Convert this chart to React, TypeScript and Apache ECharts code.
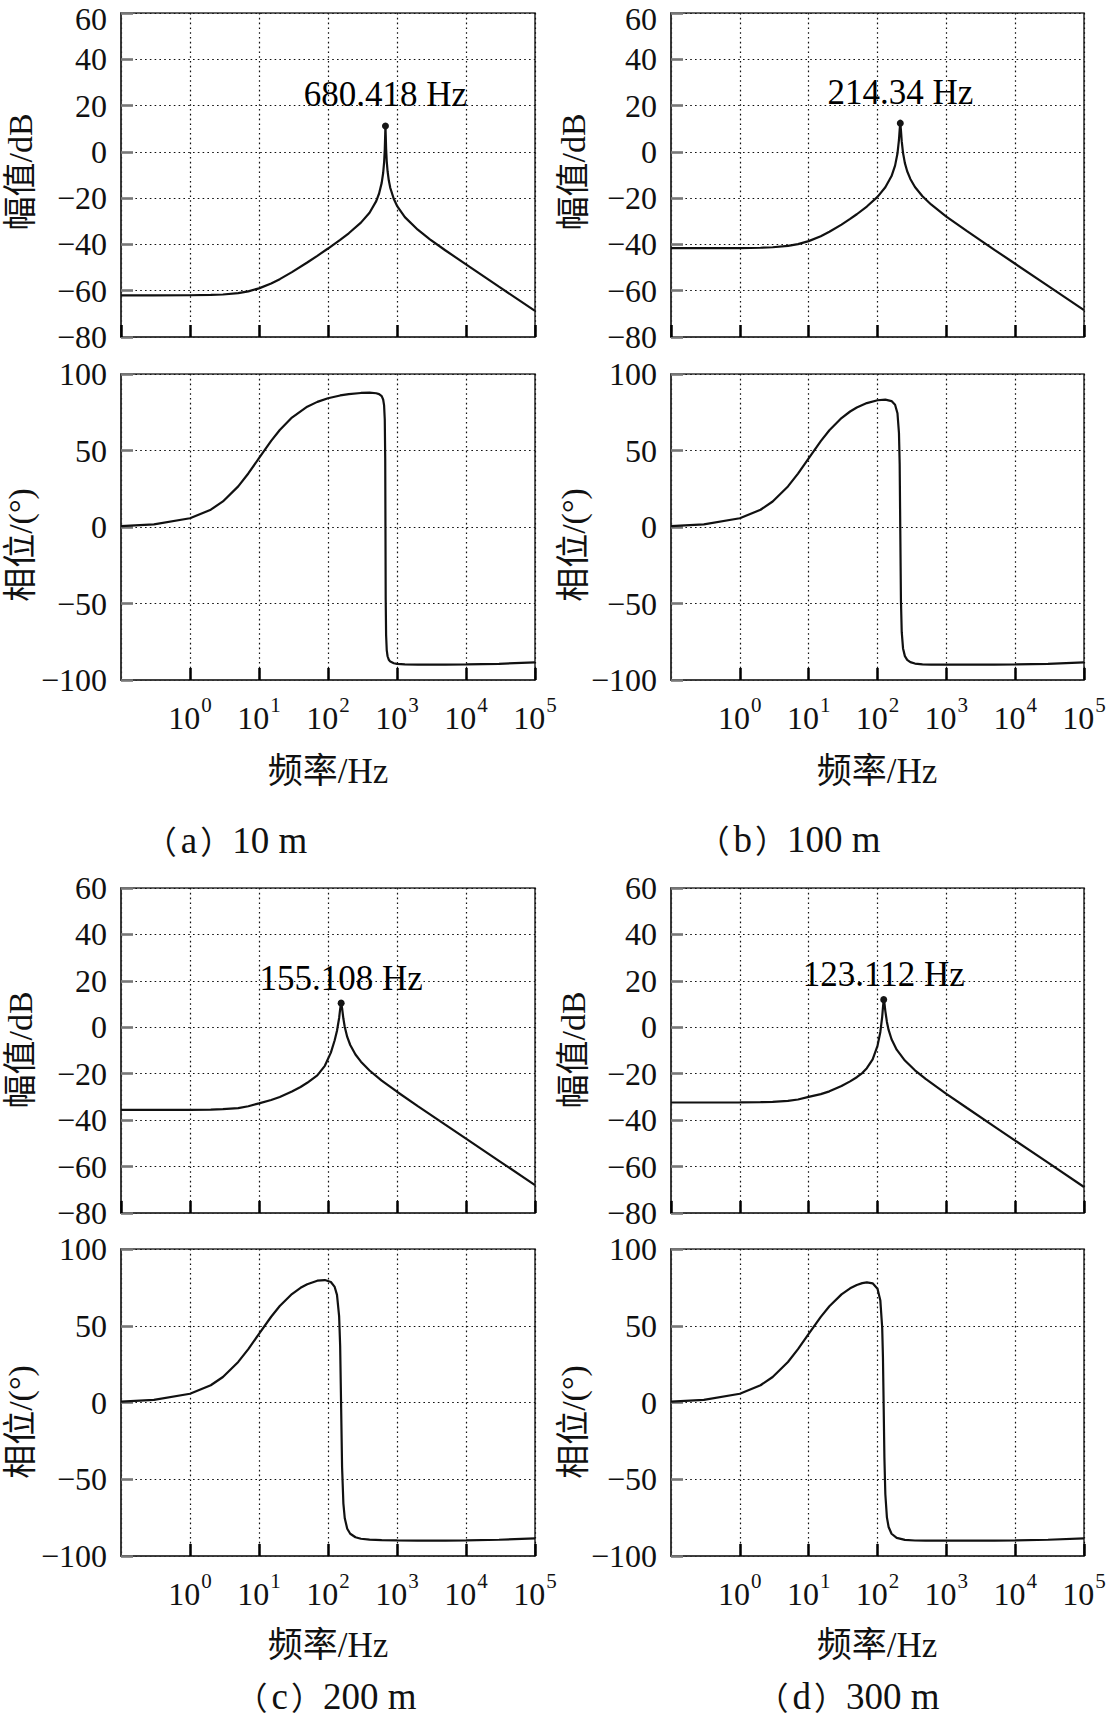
import React, { useEffect, useRef } from "react";
import * as echarts from "echarts";

const PAGE_W = 1106;
const PAGE_H = 1722;
const SERIF = '"Liberation Serif", "Times New Roman", "Noto Sans CJK SC", serif';
const CJK = '"Noto Sans CJK SC", sans-serif';
const INK = "#111111";

// (a) 10 m
const freqA = [0.1, 0.3, 1, 2, 3, 5, 7, 10, 15, 20, 30, 50, 70, 100, 150, 200, 300, 400, 500, 550, 600, 630, 650, 665, 675, 680.418, 686, 695, 710, 730, 760, 800, 900, 1000, 1300, 2000, 3000, 5000, 10000, 30000, 100000];
const magA = [-62.0, -62.0, -61.96, -61.83, -61.63, -61.03, -60.27, -58.99, -56.88, -55.01, -51.98, -47.8, -44.91, -41.77, -38.03, -35.19, -30.57, -26.28, -21.28, -17.99, -13.4, -9.14, -4.69, 0.98, 7.69, 11.2, 7.56, 1.54, -4.09, -8.37, -12.28, -15.6, -20.41, -23.29, -28.19, -33.64, -37.78, -42.51, -48.65, -58.23, -68.69];
const phaseA = [0.57, 1.72, 5.71, 11.31, 16.7, 26.56, 34.98, 44.99, 56.29, 63.4, 71.53, 78.62, 81.78, 84.16, 85.98, 86.85, 87.6, 87.77, 87.42, 86.88, 85.51, 83.31, 79.45, 70.3, 44.75, -0.84, -47.24, -70.62, -80.41, -84.48, -86.75, -87.97, -89.04, -89.47, -89.79, -89.95, -89.98, -89.99, -89.8, -89.4, -88.5];

// (b) 100 m
const freqB = [0.1, 0.3, 1, 2, 3, 5, 7, 10, 15, 20, 30, 40, 50, 70, 100, 130, 160, 180, 195, 205, 210, 214.34, 219, 225, 235, 250, 270, 300, 350, 450, 600, 1000, 2000, 5000, 10000, 30000, 100000];
const magB = [-41.6, -41.6, -41.56, -41.43, -41.22, -40.63, -39.86, -38.57, -36.44, -34.53, -31.43, -28.99, -26.96, -23.62, -19.44, -15.32, -10.45, -5.94, -0.73, 5.14, 9.58, 12.4, 9.37, 4.51, -0.51, -4.85, -8.38, -11.7, -15.16, -19.18, -22.74, -27.95, -34.28, -42.32, -48.35, -57.9, -68.36];
const phaseB = [0.57, 1.71, 5.7, 11.29, 16.67, 26.51, 34.91, 44.89, 56.14, 63.2, 71.22, 75.49, 78.09, 80.97, 82.83, 83.25, 82.29, 79.87, 74.32, 61.56, 40.99, -2.67, -47.75, -68.75, -79.37, -84.4, -86.87, -88.34, -89.24, -89.76, -89.95, -90.0, -90.0, -90.0, -89.8, -89.4, -88.5];

// (c) 200 m
const freqC = [0.1, 0.3, 1, 2, 3, 5, 7, 10, 15, 20, 30, 40, 50, 70, 90, 110, 125, 135, 145, 150, 155.108, 160, 167, 175, 190, 210, 250, 300, 400, 600, 1000, 2000, 5000, 10000, 30000, 100000];
const magC = [-35.6, -35.6, -35.56, -35.45, -35.28, -34.8, -34.0, -32.8, -31.3, -30.0, -27.7, -25.7, -23.9, -20.7, -16.6, -10.9, -5.6, -1.5, 4.0, 7.8, 10.4, 8.26, 3.77, 0.12, -4.15, -7.63, -11.73, -14.82, -18.61, -22.94, -27.76, -33.94, -41.95, -47.97, -57.52, -67.97];
const phaseC = [0.57, 1.71, 5.68, 11.25, 16.61, 26.42, 34.79, 44.71, 55.87, 62.85, 70.67, 74.73, 77.08, 79.34, 79.76, 78.47, 75.28, 70.14, 56.04, 36.88, -3.69, -42.15, -65.65, -75.42, -82.22, -85.51, -87.8, -88.76, -89.39, -89.71, -89.86, -89.94, -89.97, -89.8, -89.4, -88.5];

// (d) 300 m
const freqD = [0.1, 0.3, 1, 2, 3, 5, 7, 10, 15, 20, 30, 40, 50, 60, 70, 85, 100, 110, 117, 120, 123.112, 126, 130, 137, 145, 160, 190, 250, 350, 500, 1000, 2000, 5000, 10000, 30000, 100000];
const magD = [-32.4, -32.4, -32.37, -32.28, -32.12, -31.7, -31.1, -30.0, -28.8, -27.6, -25.3, -23.3, -21.5, -19.7, -17.6, -13.8, -8.0, -2.0, 4.5, 8.5, 11.91, 10.5, 6.99, 2.31, -1.13, -5.15, -9.65, -14.33, -18.53, -22.23, -28.66, -34.78, -42.76, -48.79, -58.33, -68.79];
const phaseD = [0.57, 1.71, 5.68, 11.24, 16.59, 26.39, 34.74, 44.64, 55.78, 62.71, 70.45, 74.4, 76.6, 77.79, 78.25, 77.62, 74.11, 66.38, 48.68, 29.5, -4.64, -36.21, -59.78, -74.82, -81.07, -85.51, -88.21, -89.49, -89.91, -90.0, -90.0, -90.0, -90.0, -89.8, -89.4, -88.5];

// resonance peaks marked on the magnitude plots
const peakFreq = [680.418, 214.34, 155.108, 123.112];
const peakMag = [11.2, 12.4, 10.4, 11.91];

const captions = ["（a）10 m", "（b）100 m", "（c）200 m", "（d）300 m"];
const magName = "幅值/dB";
const phaseName = "相位/(°)";
const freqName = "频率/Hz";

const freqMin = 0.1;
const freqMax = 100000;
const magMin = -80;
const magMax = 60;
const magStep = 20;
const phaseMin = -100;
const phaseMax = 100;
const phaseStep = 50;

const curves = [
  { freq: freqA, mag: magA, phase: phaseA },
  { freq: freqB, mag: magB, phase: phaseB },
  { freq: freqC, mag: magC, phase: phaseC },
  { freq: freqD, mag: magD, phase: phaseD },
];

// page layout of the four panels (pixels)
const frames = [
  { left: 121, width: 414, magTop: 13, magH: 324, phTop: 374, phH: 306, nameX: 20, magNameY: 172, phNameY: 545, xNameX: 328, xNameY: 771, capX: 226, capY: 840, peakGap: 10 },
  { left: 671, width: 413, magTop: 13, magH: 324, phTop: 374, phH: 306, nameX: 573, magNameY: 172, phNameY: 545, xNameX: 877, xNameY: 771, capX: 789, capY: 839, peakGap: 10 },
  { left: 121, width: 414, magTop: 888, magH: 325, phTop: 1249, phH: 307, nameX: 20, magNameY: 1050, phNameY: 1422, xNameX: 328, xNameY: 1645, capX: 326, capY: 1696, peakGap: 4 },
  { left: 671, width: 413, magTop: 888, magH: 325, phTop: 1249, phH: 307, nameX: 573, magNameY: 1050, phNameY: 1422, xNameX: 877, xNameY: 1645, capX: 848, capY: 1696, peakGap: 4 },
];

const dotted = { type: [1.6, 3.2] as number[], color: "#111", width: 1.2 };

function signed(v: number): string {
  return v < 0 ? "\u2212" + Math.abs(v) : String(v);
}

function makeXAxis(gridIndex: number, labelled: boolean) {
  return {
    type: "log",
    logBase: 10,
    min: freqMin,
    max: freqMax,
    gridIndex,
    position: "bottom",
    axisLine: { show: true, onZero: false, lineStyle: { color: "#333", width: 1.6 } },
    axisTick: { show: true, inside: true, length: 12, lineStyle: { color: "#000", width: 2.5 } },
    splitLine: { show: true, lineStyle: dotted },
    axisLabel: labelled
      ? {
          show: true,
          margin: 14,
          showMinLabel: false,
          formatter: (v: number) => {
            const e = Math.round(Math.log10(v));
            return e < 0 ? "" : `{b|10}{s|${e}}`;
          },
          rich: {
            b: { fontSize: 32, fontFamily: SERIF, color: INK, lineHeight: 40, verticalAlign: "bottom" },
            s: { fontSize: 21, fontFamily: SERIF, color: INK, lineHeight: 40, verticalAlign: "top", padding: [0, 0, 0, 1] },
          },
        }
      : { show: false },
  };
}

function makeYAxis(gridIndex: number, min: number, max: number, step: number, roomAbove: boolean) {
  return {
    type: "value",
    gridIndex,
    min,
    max,
    interval: step,
    position: "left",
    axisLine: { show: true, onZero: false, lineStyle: { color: "#333", width: 1.6 } },
    axisTick: { show: true, inside: true, length: 12, lineStyle: { color: "#777", width: 2.6 } },
    splitLine: { show: true, lineStyle: dotted },
    axisLabel: {
      margin: 14,
      fontSize: 32,
      lineHeight: 26,
      fontFamily: SERIF,
      color: INK,
      // the top label sits at the page edge, so it gets a little headroom
      formatter: (v: number) => (roomAbove && v === max ? `{hi|${signed(v)}}` : signed(v)),
      rich: {
        hi: { fontSize: 32, fontFamily: SERIF, color: INK, lineHeight: 26, padding: [11, 0, 0, 0] },
      },
    },
  };
}

function vText(text: string, x: number, y: number) {
  return {
    type: "text",
    x,
    y,
    rotation: Math.PI / 2,
    style: {
      text,
      fontSize: 34,
      fontFamily: SERIF,
      fill: INK,
      align: "center",
      verticalAlign: "middle",
      textAlign: "center",
      textVerticalAlign: "middle",
    },
  };
}

function hText(text: string, x: number, y: number, size: number) {
  return {
    type: "text",
    x,
    y,
    style: {
      text,
      fontSize: size,
      fontFamily: SERIF,
      fill: INK,
      align: "center",
      verticalAlign: "middle",
      textAlign: "center",
      textVerticalAlign: "middle",
    },
  };
}

// full-width brackets come from the CJK face, the rest from the serif face
function captionText(s: string, x: number, y: number) {
  const rich = s
    .split(/([（）])/)
    .filter((part) => part.length > 0)
    .map((part) => (part === "（" ? `{lp|${part}}` : part === "）" ? `{rp|${part}}` : `{t|${part}}`))
    .join("");
  return {
    type: "text",
    x,
    y,
    style: {
      text: rich,
      fill: INK,
      align: "center",
      verticalAlign: "middle",
      textAlign: "center",
      textVerticalAlign: "middle",
      rich: {
        lp: { fontFamily: CJK, fontSize: 32, fill: INK, lineHeight: 34, padding: [0, 4, 0, 0] },
        rp: { fontFamily: CJK, fontSize: 32, fill: INK, lineHeight: 34, padding: [0, 0, 0, 3] },
        t: { fontFamily: SERIF, fontSize: 37, fill: INK, lineHeight: 34 },
      },
    },
  };
}

function buildOption() {
  const grid: any[] = [];
  const xAxis: any[] = [];
  const yAxis: any[] = [];
  const series: any[] = [];
  const graphic: any[] = [];

  frames.forEach((fr, k) => {
    const gm = 2 * k;
    const gp = 2 * k + 1;
    const frameStyle = {
      show: true,
      borderColor: "#333",
      borderWidth: 1.6,
      backgroundColor: "transparent",
      containLabel: false,
      outerBoundsMode: "none",
    };
    grid.push({ left: fr.left, top: fr.magTop, width: fr.width, height: fr.magH, ...frameStyle });
    grid.push({ left: fr.left, top: fr.phTop, width: fr.width, height: fr.phH, ...frameStyle });

    xAxis.push(makeXAxis(gm, false));
    xAxis.push(makeXAxis(gp, true));
    yAxis.push(makeYAxis(gm, magMin, magMax, magStep, fr.magTop < 20));
    yAxis.push(makeYAxis(gp, phaseMin, phaseMax, phaseStep, false));

    const c = curves[k];
    series.push({
      type: "line",
      xAxisIndex: gm,
      yAxisIndex: gm,
      data: c.freq.map((f, i) => [f, c.mag[i]]),
      showSymbol: false,
      symbol: "none",
      lineStyle: { color: "#111", width: 2.2 },
      z: 3,
    });
    series.push({
      type: "line",
      xAxisIndex: gp,
      yAxisIndex: gp,
      data: c.freq.map((f, i) => [f, c.phase[i]]),
      showSymbol: false,
      symbol: "none",
      lineStyle: { color: "#111", width: 2.2 },
      z: 3,
    });
    series.push({
      type: "scatter",
      xAxisIndex: gm,
      yAxisIndex: gm,
      data: [[peakFreq[k], peakMag[k]]],
      symbol: "circle",
      symbolSize: 7,
      itemStyle: { color: "#151515", opacity: 1 },
      label: {
        show: true,
        position: "top",
        distance: fr.peakGap,
        fontSize: 35,
        fontFamily: SERIF,
        color: "#000",
        opacity: 1,
        textBorderWidth: 0,
        formatter: (p: any) => `${p.value[0]} Hz`,
      },
      z: 6,
    });

    graphic.push(vText(magName, fr.nameX, fr.magNameY));
    graphic.push(vText(phaseName, fr.nameX, fr.phNameY));
    graphic.push(hText(freqName, fr.xNameX, fr.xNameY, 35));
    graphic.push(captionText(captions[k], fr.capX, fr.capY));
  });

  return {
    animation: false,
    backgroundColor: "#ffffff",
    grid,
    xAxis,
    yAxis,
    series,
    graphic,
  };
}

export default function App() {
  const ref = useRef<HTMLDivElement>(null);
  useEffect(() => {
    if (!ref.current) return;
    const chart = echarts.init(ref.current, undefined, { renderer: "svg" });
    chart.setOption(buildOption() as any);
    return () => chart.dispose();
  }, []);
  return (
    <div
      ref={ref}
      style={{ position: "absolute", left: 0, top: 0, width: PAGE_W, height: PAGE_H, background: "#fff" }}
    />
  );
}
